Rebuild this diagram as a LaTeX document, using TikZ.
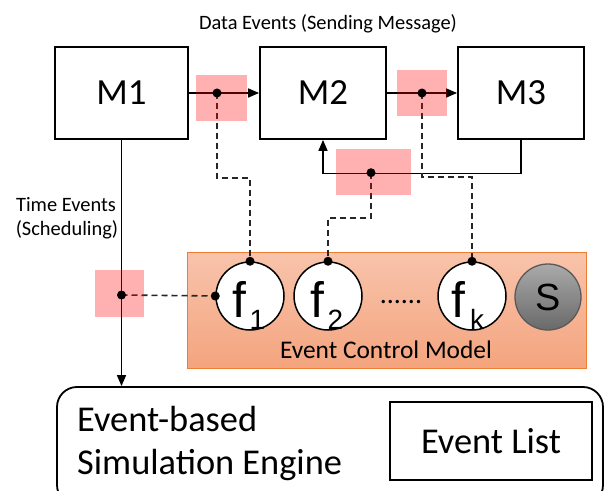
\documentclass[tikz,border=0pt]{standalone}
\usepackage{fontspec}
\setmainfont{Carlito}
\newfontfamily\arialish{Liberation Sans}
\usetikzlibrary{arrows.meta}
\newcommand\fsz[1]{\fontsize{#1}{#1}\selectfont}
\definecolor{ecmtop}{RGB}{248,196,172}
\definecolor{ecmbot}{RGB}{244,164,126}
\definecolor{ecmline}{RGB}{237,125,49}
\definecolor{stop}{RGB}{170,170,170}
\definecolor{sbot}{RGB}{105,105,105}
\begin{document}
\begin{tikzpicture}[x=1bp,y=-1bp,
  modbox/.style={draw,line width=1.8bp,minimum width=133bp,minimum height=92bp,inner sep=0pt,font=\fsz{37}},
  flow/.style={line width=1.6bp,-{Triangle[length=11bp,width=9bp]}},
  ctrl/.style={line width=1.6bp,draw=black!85,dash pattern=on 6bp off 4bp},
  hot/.style={fill=red,fill opacity=0.31},
  tap/.style={circle,fill=black,inner sep=0pt,minimum size=9bp},
  fnode/.style={circle,draw,line width=1.5bp,fill=white,minimum size=68bp,inner sep=0pt},
  fmain/.style={anchor=base west,inner sep=0pt,font=\arialish\fsz{50}},
  fsub/.style={anchor=base west,inner sep=0pt,font=\arialish\fsz{28}},
  small/.style={inner sep=0pt,font=\fsz{20.5}},
  big/.style={inner sep=0pt,font=\fsz{36.5}}
]
\clip (0,0) rectangle (606,491);
\fill[white] (0,0) rectangle (606,491);

% caption of the data flow
\node[small,anchor=base] (dlabel) at (328,30) {Data Events (Sending Message)};

% models
\node[modbox] (M1) at (121.5,93) {M1};
\node[modbox,minimum width=126bp] (M2) at (323,93) {M2};
\node[modbox,minimum width=126bp] (M3) at (521,93) {M3};

% event control model panel
\fill[top color=ecmtop,bottom color=ecmbot] (187.5,252) rectangle (586,368);
\draw[ecmline,line width=1bp] (187.5,252) rectangle (586,368);
\node[inner sep=0pt,font=\fsz{25.5},anchor=base] (ecm) at (386,358) {Event Control Model};

% simulation engine
\node[draw,rounded corners=20bp,line width=1.8bp,minimum width=546bp,minimum height=118bp,inner sep=0pt] (engine) at (330,446) {};
\node[big,anchor=base west] (eng1) at (77,431) {Event-based};
\node[big,anchor=base west] (eng2) at (77,474) {Simulation Engine};
\node[draw,line width=1.8bp,minimum width=202bp,minimum height=78bp,inner sep=0pt,font=\fsz{36.5}] (elist) at (491,441) {Event List};

% time events label
\node[small,anchor=base] (tl1) at (66,211.7) {Time Events};
\node[small,anchor=base] (tl2) at (67,235.7) {(Scheduling)};

% event functions and state
\node[fnode] (f1) at (250,296) {};
\node[fnode] (f2) at (328,296) {};
\node[fnode] (fk) at (472,296) {};
\node[circle,draw=black!65,line width=1.3bp,top color=stop,bottom color=sbot,minimum size=66bp,inner sep=0pt,font=\arialish\fsz{38}] (S) at (548,297) {S};
\node[fmain] (f1a) at (232,317) {f};
\node[fsub] (f1b) at (249.5,329) {1};
\node[fmain] (f2a) at (310,317) {f};
\node[fsub] (f2b) at (327.5,329) {2};
\node[fmain] (fka) at (451,317) {f};
\node[fsub] (fkb) at (470,329) {k};
\node[inner sep=0pt,font=\fsz{28},anchor=base] (dots) at (401,303) {......};

% tap points
\coordinate (d1) at (217,93);
\coordinate (d2) at (422,93);
\coordinate (d3) at (371,172.7);
\coordinate (d4) at (121.5,295);
\coordinate (t1) at (250,178);
\coordinate (t2) at (472,177);
\coordinate (t3) at (328,218);

% data and time event connectors
\draw[flow] (M1) -- (M2);
\draw[flow] (M2) -- (M3);
\draw[flow] (M3.south) -- ++(0,33.7) -| (M2.south);
\draw[flow] (M1.south) -- (M1.south |- engine.north);

% control connectors
\draw[ctrl] (d1) |- (t1) -- (f1.north);
\draw[ctrl] (d2) |- (t2) -- (fk.north);
\draw[ctrl] (d3) |- (t3) -- (f2.north);
\draw[ctrl] (d4) -- (f1.west);

% highlighted interception zones
\fill[hot] (196,75) rectangle (247,121);
\fill[hot] (397,70) rectangle (447,116);
\fill[hot] (336,149) rectangle (411,195);
\fill[hot] (95,270) rectangle (144,317);

% dots
\node[tap] (p1) at (d1) {};
\node[tap] (p2) at (d2) {};
\node[tap] (p3) at (d3) {};
\node[tap] (p4) at (d4) {};
\node[tap] (q1) at (f1.north) {};
\node[tap] (q2) at (f2.north) {};
\node[tap] (qk) at (fk.north) {};
\node[tap] (q0) at (f1.west) {};
\end{tikzpicture}
\end{document}
